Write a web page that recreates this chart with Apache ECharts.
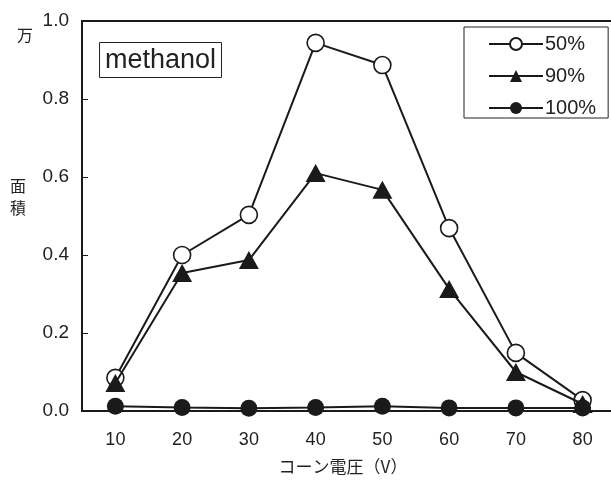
<!DOCTYPE html>
<html><head><meta charset="utf-8">
<script src="https://cdn.jsdelivr.net/npm/echarts@6/dist/echarts.min.js"></script>
<style>html,body{margin:0;padding:0;background:#fff;overflow:hidden}#c{width:620px;height:480px}</style>
</head><body><div id="c"></div>
<script>
const categories = ['10','20','30','40','50','60','70','80'];
const s50 = [0.085, 0.40, 0.503, 0.944, 0.887, 0.469, 0.149, 0.028];
const s90 = [0.072, 0.354, 0.387, 0.61, 0.567, 0.313, 0.10, 0.018];
const s100 = [0.012, 0.009, 0.007, 0.009, 0.012, 0.008, 0.008, 0.008];
const seriesNames = ['50%','90%','100%'];
const xName = 'コーン電圧（V）';

const LAT = '"Liberation Sans", Arial, sans-serif';
const JP = '"Noto Sans CJK JP", sans-serif';
const chart = echarts.init(document.getElementById('c'));
const lineStyle = {color:'#1a1a1a', width:2};
chart.setOption({
  animation:false,
  backgroundColor:'#fff',
  title:{text:'methanol', left:99, top:42, padding:[5,6,4,6], borderColor:'#222', borderWidth:1,
    textStyle:{fontFamily:LAT, fontSize:27, fontWeight:'normal', color:'#222'}},
  legend:{orient:'vertical', left:464, top:27, padding:[7,12,0,24],
    borderColor:'#222', borderWidth:1, itemWidth:54, itemHeight:15, itemGap:12,
    textStyle:{fontFamily:LAT, fontSize:20, color:'#222', padding:[0,0,0,-3]},
    data:seriesNames},
  grid:{left:82, top:21, width:534, height:390, show:true, borderColor:'#1a1a1a', borderWidth:2},
  xAxis:{type:'category', data:categories, boundaryGap:true,
    name:xName, nameLocation:'middle', nameGap:47,
    nameTextStyle:{fontFamily:JP, fontSize:17, color:'#222', padding:[0,12,0,0]},
    axisLine:{lineStyle:{color:'#1a1a1a', width:2}},
    axisTick:{inside:true, length:6, lineStyle:{color:'#1a1a1a', width:1}},
    axisLabel:{fontFamily:LAT, fontSize:18, color:'#222', margin:20},
    splitLine:{show:false}},
  yAxis:{type:'value', min:0, max:1, interval:0.2,
    axisLine:{show:true, lineStyle:{color:'#1a1a1a', width:2}},
    axisTick:{show:true, inside:true, length:6, lineStyle:{color:'#1a1a1a', width:1}},
    axisLabel:{fontFamily:LAT, fontSize:19, color:'#222', margin:13, formatter:v=>v.toFixed(1)},
    splitLine:{show:false}},
  graphic:[
    {type:'text', left:17, top:27, style:{text:'万', font:'16px '+JP, fill:'#222'}},
    {type:'text', left:10, top:175, style:{text:'面\n積', font:'16px '+JP, fill:'#222', lineHeight:22}}
  ],
  series:[
    {name:seriesNames[0], type:'line', data:s50, symbol:'circle', symbolSize:17,
      lineStyle:lineStyle, itemStyle:{color:'#fff', borderColor:'#1a1a1a', borderWidth:1.6}, z:3},
    {name:seriesNames[1], type:'line', data:s90, symbol:'triangle', symbolSize:[20,18],
      lineStyle:lineStyle, itemStyle:{color:'#1a1a1a'}, z:4},
    {name:seriesNames[2], type:'line', data:s100, symbol:'circle', symbolSize:17,
      lineStyle:lineStyle, itemStyle:{color:'#1a1a1a'}, z:5}
  ]
});
</script></body></html>
